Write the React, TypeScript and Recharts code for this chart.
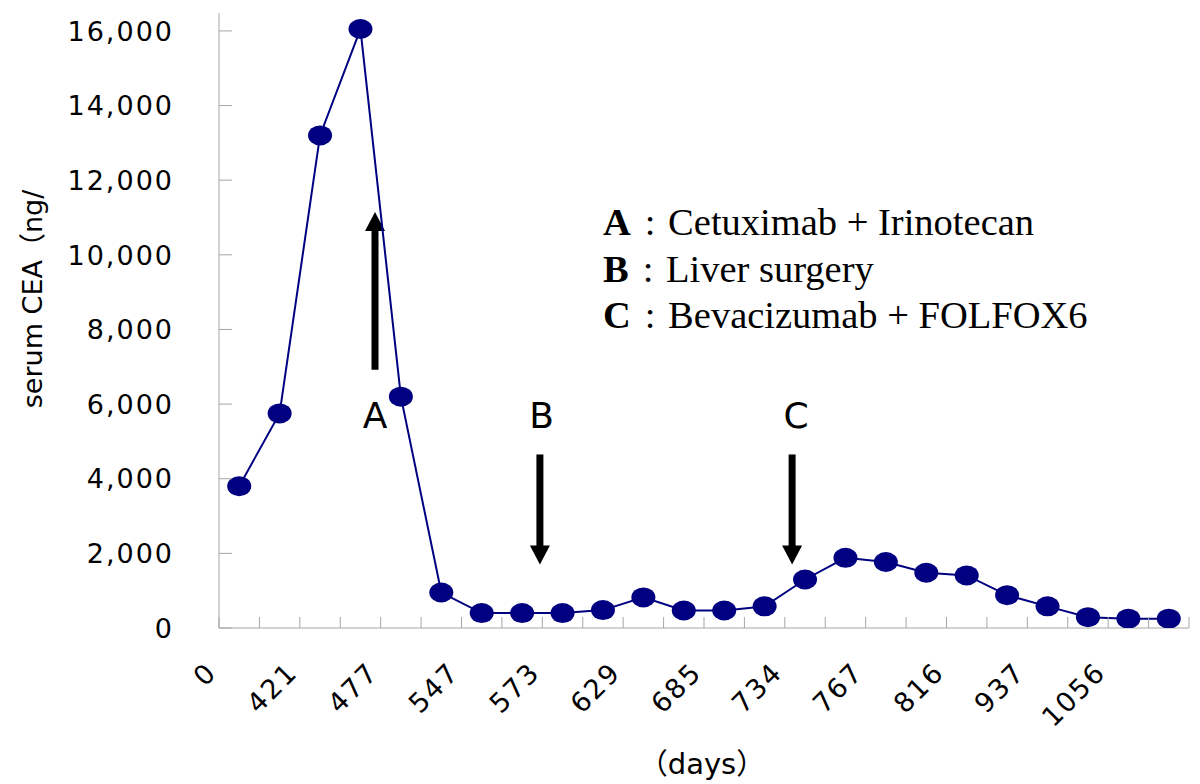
import React from 'react';
import { LineChart, Line, XAxis, YAxis, ReferenceLine, ReferenceDot } from 'recharts';

// Category labels (days) shown under every other category
const dayLabels = ['0', '421', '477', '547', '573', '629', '685', '734', '767', '816', '937', '1056'];
// Serum CEA values, one per measurement (24 measurements)
const ceaValues = [3800, 5750, 13200, 16050, 6200, 950, 400, 400, 400, 480, 820, 470, 470, 580, 1300, 1880, 1770, 1480, 1410, 880, 580, 290, 250, 250];
const yTicks = [0, 2000, 4000, 6000, 8000, 10000, 12000, 14000, 16000];
// Treatment arrows: position on the category scale (0..24), start value, end value, label value
const arrowLabels = ['A', 'B', 'C'];
const arrowPos = [3.86, 7.94, 14.18];
const arrowFrom = [6920, 4650, 4650];
const arrowTo = [11150, 1700, 1700];
const arrowLabelPos = [3.86, 7.98, 14.28];
const arrowLabelY = [5690, 5690, 5690];
const legendKeys = ['A', 'B', 'C'];
const legendTexts = ['Cetuximab + Irinotecan', 'Liver surgery', 'Bevacizumab + FOLFOX6'];

const N = ceaValues.length;
const data = ceaValues.map((v, i) => ({ pos: i + 0.5, cea: v }));
const xTicks: number[] = [];
for (let i = 0; i <= N; i++) {
  xTicks.push(i);
  if (i < N && i % 2 === 0) xTicks.push(i + 0.5);
}

const AXIS = '#a6a6a6';
const NAVY = '#000080';
const TICK_FONT = { fontFamily: '"DejaVu Sans", sans-serif', fontSize: 27, letterSpacing: 2 };

const XTick = (props: any) => {
  const { x, y, payload } = props;
  const v = payload.value;
  if (Number.isInteger(v)) {
    return <line x1={x} y1={y} x2={x} y2={y - 11} stroke={AXIS} strokeWidth={1} />;
  }
  const idx = Math.round((v - 0.5) / 2);
  return (
    <text
      transform={`translate(${x - 21},${y + 46}) rotate(-45)`}
      textAnchor="end"
      fill="#000"
      {...TICK_FONT}
    >
      {dayLabels[idx]}
    </text>
  );
};

const YTick = (props: any) => {
  const { x, y, payload } = props;
  return (
    <g>
      <line x1={x} y1={y} x2={x + 13} y2={y} stroke={AXIS} strokeWidth={1} />
      <text x={x - 45} y={y} dy="0.36em" textAnchor="end" fill="#000" {...TICK_FONT}>
        {payload.value.toLocaleString('en-US')}
      </text>
    </g>
  );
};

const ArrowShape = (props: any) => {
  const { x1, y1, x2, y2 } = props;
  const dir = y2 > y1 ? 1 : -1;
  const head = 19;
  const half = 10;
  const baseY = y2 - dir * head;
  return (
    <g>
      <line x1={x1} y1={y1} x2={x2} y2={baseY + dir * 1} stroke="#000" strokeWidth={7} />
      <polygon points={`${x2 - half},${baseY} ${x2 + half},${baseY} ${x2},${y2}`} fill="#000" />
    </g>
  );
};

const Dot = (props: any) => {
  const { cx, cy, index } = props;
  return <ellipse key={`d${index}`} cx={cx} cy={cy} rx={12} ry={10} fill={NAVY} />;
};

export default function App() {
  return (
    <div style={{ position: 'relative', width: 1192, height: 776 }}>
      <LineChart width={1192} height={776} data={data} margin={{ top: 5, right: 11, left: 0, bottom: 0 }}>
        <XAxis
          dataKey="pos"
          type="number"
          domain={[0, N]}
          ticks={xTicks}
          interval={0}
          tick={<XTick />}
          tickLine={false}
          tickSize={0}
          tickMargin={0}
          axisLine={{ stroke: AXIS, strokeWidth: 1 }}
          height={156}
          allowDataOverflow
        />
        <YAxis
          type="number"
          domain={[0, 16480]}
          ticks={yTicks}
          interval={0}
          tick={<YTick />}
          tickLine={false}
          tickSize={0}
          tickMargin={0}
          axisLine={{ stroke: AXIS, strokeWidth: 1 }}
          width={211}
          allowDataOverflow
        />
        {arrowLabels.map((l, i) => (
          <ReferenceLine
            key={`arr${l}`}
            segment={[{ x: arrowPos[i], y: arrowFrom[i] }, { x: arrowPos[i], y: arrowTo[i] }]}
            shape={ArrowShape}
            ifOverflow="visible"
          />
        ))}
        {arrowLabels.map((l, i) => (
          <ReferenceDot
            key={`lab${l}`}
            x={arrowLabelPos[i]}
            y={arrowLabelY[i]}
            r={1}
            fill="none"
            stroke="none"
            ifOverflow="visible"
            label={{ value: l, position: 'center', fontSize: 36, fill: '#000', fontFamily: '"DejaVu Sans", sans-serif' }}
          />
        ))}
        <Line
          type="linear"
          dataKey="cea"
          stroke={NAVY}
          strokeWidth={2}
          dot={Dot}
          activeDot={false}
          isAnimationActive={false}
        />
      </LineChart>
      <svg
        width={1192}
        height={776}
        style={{ position: 'absolute', left: 0, top: 0, pointerEvents: 'none' }}
      >
        <text
          transform="translate(24,291) rotate(-90)"
          textAnchor="middle"
          dominantBaseline="central"
          fontFamily='"DejaVu Sans", "Noto Sans CJK JP", sans-serif'
          fontSize={27}
          fill="#000"
        >
          serum CEA（ng/
        </text>
        <text
          x={694}
          y={766}
          textAnchor="middle"
          fontFamily='"DejaVu Sans", "Noto Sans CJK JP", sans-serif'
          fontSize={29}
          fill="#000"
        >
          （days）
        </text>
        {legendKeys.map((k, i) => (
          <text
            key={k}
            x={595}
            y={227 + i * 46.5}
            fontFamily='"Liberation Serif", serif'
            fontSize={38.5}
            fill="#000"
          >
            <tspan fontWeight="bold">{k}</tspan>
            <tspan dx={14}>:</tspan>
            <tspan dx={12.6}>{legendTexts[i]}</tspan>
          </text>
        ))}
      </svg>
    </div>
  );
}
